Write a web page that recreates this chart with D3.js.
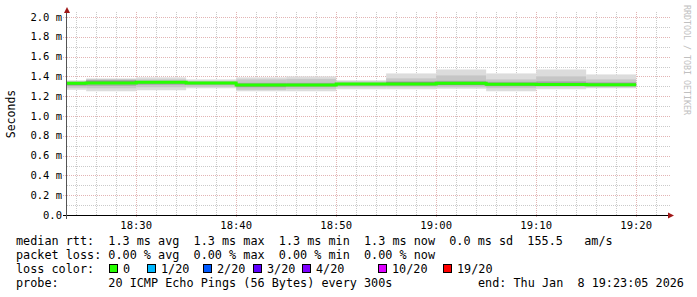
<!DOCTYPE html>
<html lang="en">
<head>
    <meta charset="UTF-8">
    <title>smokeping</title>
    <script src="https://d3js.org/d3.v7.min.js"></script>
    <style>
        body { margin: 0; background: #fff; }
        text { font-family: "DejaVu Sans Mono", monospace; fill: #000; }
        .tick-label { font-size: 10.5px; }
        .legend { font-size: 11.8px; white-space: pre; }
        .grid-minor { stroke: #cacaca; stroke-dasharray: 1 1; }
        .grid-major { stroke: #e2b4b4; stroke-dasharray: 1 1; }
    </style>
</head>
<body>
<script>
    const width = 697, height = 297;
    const plotL = 67, plotR = 667, plotT = 17, plotB = 215;

    // end time of each 300s step (value covers the 5 minutes before it)
    const stepEnds = ["18:25", "18:30", "18:35", "18:40", "18:45", "18:50",
                      "18:55", "19:00", "19:05", "19:10", "19:15", "19:20"];
    // values in ms
    const median = [1.330, 1.333, 1.341, 1.333, 1.313, 1.313, 1.323, 1.323, 1.330, 1.320, 1.318, 1.316];
    const pingMin = [1.265, 1.250, 1.260, 1.280, 1.250, 1.250, 1.270, 1.270, 1.275, 1.250, 1.270, 1.280];
    const pingMax = [1.360, 1.380, 1.390, 1.370, 1.390, 1.400, 1.360, 1.430, 1.470, 1.430, 1.470, 1.420];
    const ping10 = [1.285, 1.280, 1.290, 1.295, 1.265, 1.275, 1.290, 1.290, 1.290, 1.280, 1.290, 1.290];
    const ping90 = [1.350, 1.370, 1.370, 1.355, 1.370, 1.375, 1.350, 1.380, 1.410, 1.370, 1.400, 1.370];
    const ping30 = [1.305, 1.305, 1.315, 1.315, 1.290, 1.295, 1.305, 1.305, 1.310, 1.300, 1.305, 1.300];
    const ping70 = [1.345, 1.365, 1.355, 1.345, 1.335, 1.335, 1.335, 1.350, 1.355, 1.345, 1.350, 1.340];
    const ping40 = [1.315, 1.330, 1.330, 1.325, 1.300, 1.305, 1.315, 1.320, 1.315, 1.310, 1.310, 1.305];
    const ping60 = [1.335, 1.350, 1.345, 1.338, 1.318, 1.320, 1.328, 1.340, 1.340, 1.330, 1.335, 1.325];

    const yTicks = [0, 0.2, 0.4, 0.6, 0.8, 1.0, 1.2, 1.4, 1.6, 1.8, 2.0];
    const lossLabels = ["0", "1/20", "2/20", "3/20", "4/20", "10/20", "19/20"];
    const lossColors = ["#26ff00", "#00b8ff", "#0059ff", "#5e00ff", "#7e00ff", "#dd00ff", "#ff0000"];

    const start = new Date(2026, 0, 8, 18, 23, 5),
          end = new Date(2026, 0, 8, 19, 23, 5);
    const parseT = s => { const [h, m] = s.split(":").map(Number); return new Date(2026, 0, 8, h, m, 0); };

    const x = d3.scaleTime().domain([start, end]).range([plotL, plotR]);
    const y = d3.scaleLinear().domain([0, 2.0]).range([plotB, plotT]);

    const svg = d3.select("body").append("svg")
        .attr("width", width).attr("height", height);
    svg.append("rect").attr("width", width).attr("height", height).attr("fill", "#fff");

    svg.append("clipPath").attr("id", "clip")
        .append("rect").attr("x", plotL).attr("y", plotT - 5)
        .attr("width", plotR - plotL).attr("height", plotB - plotT + 5);

    // grid
    const grid = svg.append("g");
    const minorY = d3.range(1, 21).map(d => d / 10).filter(d => Math.round(d * 10) % 2 === 1);
    grid.selectAll(".hmin").data(minorY).join("line")
        .attr("class", "grid-minor")
        .attr("x1", plotL).attr("x2", plotR + 3)
        .attr("y1", d => Math.round(y(d)) + 0.5).attr("y2", d => Math.round(y(d)) + 0.5);
    const minutes = d3.timeMinute.every(2).range(start, end);
    grid.selectAll(".vmin").data(minutes.filter(d => d.getMinutes() % 10 !== 0)).join("line")
        .attr("class", "grid-minor")
        .attr("x1", d => Math.round(x(d)) + 0.5).attr("x2", d => Math.round(x(d)) + 0.5)
        .attr("y1", plotT - 5).attr("y2", plotB);
    grid.selectAll(".hmaj").data(yTicks.slice(1)).join("line")
        .attr("class", "grid-major")
        .attr("x1", plotL - 4).attr("x2", plotR + 3)
        .attr("y1", d => Math.round(y(d)) + 0.5).attr("y2", d => Math.round(y(d)) + 0.5);
    const majors = d3.timeMinute.every(10).range(start, end);
    grid.selectAll(".vmaj").data(majors).join("line")
        .attr("class", "grid-major")
        .attr("x1", d => Math.round(x(d)) + 0.5).attr("x2", d => Math.round(x(d)) + 0.5)
        .attr("y1", plotT - 5).attr("y2", plotB + 3);

    // smoke
    const steps = stepEnds.map((s, i) => {
        const e = parseT(s);
        return { s: d3.max([new Date(e - 300000), start]), e, i };
    });
    const smoke = svg.append("g").attr("clip-path", "url(#clip)");
    const bands = [[pingMin, pingMax, "#dcdcdc"], [ping10, ping90, "#c6c6c6"],
                   [ping30, ping70, "#a8a8a8"], [ping40, ping60, "#858585"]];
    bands.forEach(([lo, hi, col]) => {
        smoke.append("g").selectAll("rect").data(steps).join("rect")
            .attr("x", d => x(d.s)).attr("width", d => x(d.e) - x(d.s))
            .attr("y", d => y(hi[d.i])).attr("height", d => y(lo[d.i]) - y(hi[d.i]))
            .attr("fill", col);
    });

    // median line
    const linePts = steps.map(d => [d.s, median[d.i]]);
    linePts.push([steps[steps.length - 1].e, median[median.length - 1]]);
    smoke.append("path")
        .attr("d", d3.line().x(d => x(d[0])).y(d => y(d[1])).curve(d3.curveStepAfter)(linePts))
        .attr("fill", "none").attr("stroke", lossColors[0]).attr("stroke-width", 3);

    // axes
    svg.append("line").attr("x1", plotL - 4).attr("x2", plotR + 1)
        .attr("y1", plotB + 0.5).attr("y2", plotB + 0.5).attr("stroke", "#000");
    svg.append("line").attr("x1", plotL - 0.5).attr("x2", plotL - 0.5)
        .attr("y1", plotB + 4).attr("y2", plotT - 6).attr("stroke", "#555");
    svg.append("path").attr("d", `M${plotL - 3},${plotT - 4} L${plotL},${plotT - 10} L${plotL + 3},${plotT - 4} Z`)
        .attr("fill", "#a01818");
    svg.append("path").attr("d", `M${plotR + 1},${plotB - 2.5} L${plotR + 7},${plotB + 0.5} L${plotR + 1},${plotB + 3.5} Z`)
        .attr("fill", "#a01818");

    svg.append("g").selectAll("text").data(yTicks).join("text")
        .attr("class", "tick-label").attr("text-anchor", "end")
        .attr("x", plotL - 5).attr("y", d => y(d) + 3.5)
        .text(d => d === 0 ? "0.0" : d.toFixed(1) + " m");
    svg.append("g").selectAll("text").data(majors).join("text")
        .attr("class", "tick-label").attr("text-anchor", "middle")
        .attr("x", d => x(d)).attr("y", 229)
        .text(d3.timeFormat("%H:%M"));

    svg.append("text").attr("transform", `translate(15,114) rotate(-90)`)
        .attr("text-anchor", "middle").style("font-size", "11.5px").text("Seconds");
    svg.append("text").attr("transform", `translate(684,5) rotate(90)`)
        .style("font-size", "8.3px").style("fill", "#c0c0c0").text("RRDTOOL / TOBI OETIKER");

    // legend
    const rows = [
        "median rtt:  1.3 ms avg  1.3 ms max  1.3 ms min  1.3 ms now  0.0 ms sd  155.5   am/s",
        "packet loss: 0.00 % avg  0.00 % max  0.00 % min  0.00 % now",
        "loss color:",
        "probe:       20 ICMP Echo Pings (56 Bytes) every 300s"
    ];
    svg.append("g").selectAll("text").data(rows).join("text")
        .attr("class", "legend").attr("x", 16).attr("y", (d, i) => 245 + i * 14)
        .text(d => d);
    svg.append("text").attr("class", "legend").attr("x", 478).attr("y", 287)
        .text("end: Thu Jan  8 19:23:05 2026");

    const swatchX = [109, 147, 203, 253, 302, 378, 443];
    const sw = svg.append("g").selectAll("g").data(lossLabels).join("g")
        .attr("transform", (d, i) => `translate(${swatchX[i]},264)`);
    sw.append("rect").attr("x", 0.5).attr("y", 0.5).attr("width", 8).attr("height", 8)
        .attr("fill", (d, i) => lossColors[i]).attr("stroke", "#000");
    sw.append("text").attr("class", "legend").attr("x", 14).attr("y", 9).text(d => d);
</script>
</body>
</html>
